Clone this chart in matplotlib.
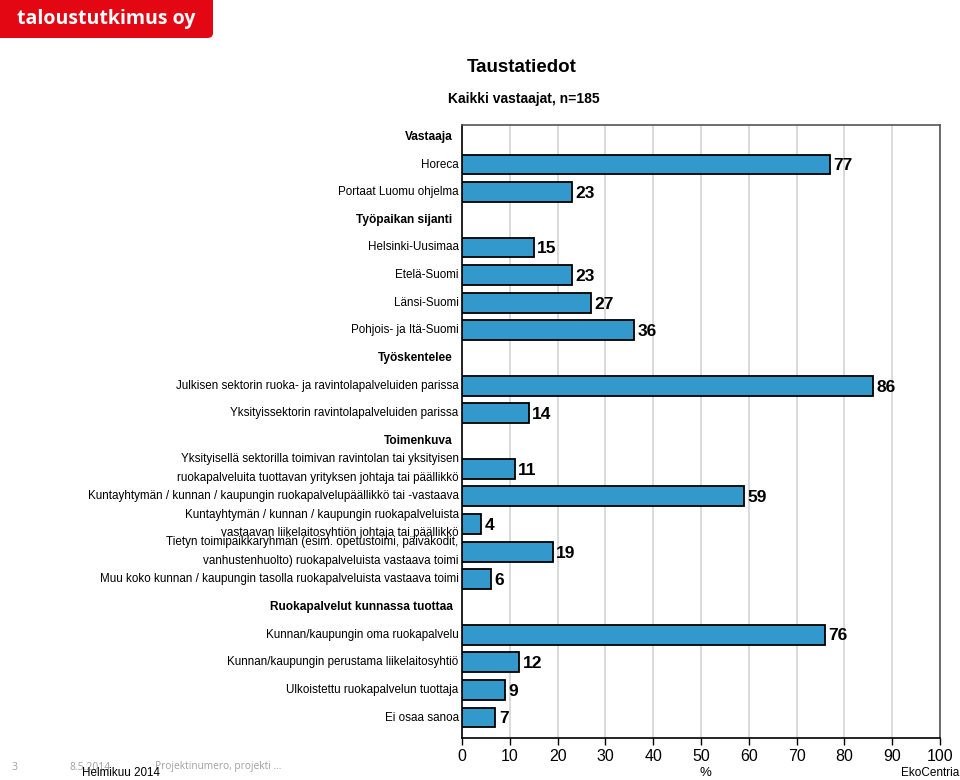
import numpy as np
import matplotlib.pyplot as plt
from matplotlib.patches import FancyBboxPatch
import matplotlib.transforms as mtransforms
from matplotlib import font_manager

plt.rcParams['font.family'] = ['Liberation Sans', 'DejaVu Sans']

# rivit ylhäältä alas; None = otsikkorivi (ei palkkia)
labels = ['Vastaaja',
          'Horeca',
          'Portaat Luomu ohjelma',
          'Työpaikan sijanti',
          'Helsinki-Uusimaa',
          'Etelä-Suomi',
          'Länsi-Suomi',
          'Pohjois- ja Itä-Suomi',
          'Työskentelee',
          'Julkisen sektorin ruoka- ja ravintolapalveluiden parissa',
          'Yksityissektorin ravintolapalveluiden parissa',
          'Toimenkuva',
          'Yksityisellä sektorilla toimivan ravintolan tai yksityisen\nruokapalveluita tuottavan yrityksen johtaja tai päällikkö',
          'Kuntayhtymän / kunnan / kaupungin ruokapalvelupäällikkö tai -vastaava',
          'Kuntayhtymän / kunnan / kaupungin ruokapalveluista\nvastaavan liikelaitosyhtiön johtaja tai päällikkö',
          'Tietyn toimipaikkaryhmän (esim. opetustoimi, päiväkodit,\nvanhustenhuolto) ruokapalveluista vastaava toimi',
          'Muu koko kunnan / kaupungin tasolla ruokapalveluista vastaava toimi',
          'Ruokapalvelut kunnassa tuottaa',
          'Kunnan/kaupungin oma ruokapalvelu',
          'Kunnan/kaupungin perustama liikelaitosyhtiö',
          'Ulkoistettu ruokapalvelun tuottaja',
          'Ei osaa sanoa']
values = [None, 77, 23, None, 15, 23, 27, 36, None, 86, 14, None,
          11, 59, 4, 19, 6, None, 76, 12, 9, 7]
xticks = [0, 10, 20, 30, 40, 50, 60, 70, 80, 90, 100]

names = {f.name for f in font_manager.fontManager.ttflist}
narrow = 'Liberation Sans Narrow' if 'Liberation Sans Narrow' in names else 'Liberation Sans'
print('narrow font:', narrow)

fig = plt.figure(figsize=(9.6, 7.8), dpi=100)
ax = fig.add_axes([462/960, 1-738/780, 478/960, 613/780])

for i, v in enumerate(values):
    if v is None:
        continue
    ax.barh(i, v, height=0.72, color='#3399cc', edgecolor='black', linewidth=1.3, zorder=3)
    ax.text(v + 0.7, i + 0.05, str(v), fontsize=12.5, fontweight='bold',
            family=[narrow], va='center', ha='left')

ax.set_xlim(0, 100)
ax.set_ylim(21.74, -0.43)
ax.set_xticks(xticks)
ax.set_xticklabels([str(t) for t in xticks], fontsize=11.5)
ax.set_yticks([])
ax.tick_params(axis='x', direction='out', length=5, width=1, pad=3)
ax.grid(axis='x', color='#d4d4d4', linewidth=1.2, zorder=0)
for s in ax.spines.values():
    s.set_linewidth(1.2)
ax.spines['top'].set_color('#555555')
ax.spines['right'].set_color('#555555')

trans = mtransforms.blended_transform_factory(ax.transAxes, ax.transData)
for i, lab in enumerate(labels):
    if values[i] is None:
        ax.text(-0.02, i, lab, transform=trans, ha='right', va='center',
                fontsize=8.6, fontweight='bold')
    else:
        ax.text(-0.007, i, lab, transform=trans, ha='right', va='center',
                fontsize=8.4, linespacing=1.75, multialignment='right')

fig.text(522/960, 1-68/780, 'Taustatiedot', ha='center', va='center', fontsize=13.5, fontweight='bold')
fig.text(524/960, 1-99/780, 'Kaikki vastaajat, n=185', ha='center', va='center', fontsize=10, fontweight='bold')

# logo
logo = FancyBboxPatch((-10/960, 1-38/780), 223/960, 48/780, boxstyle='round,pad=0,rounding_size=0.006',
                      transform=fig.transFigure, facecolor='#e30613', edgecolor='none')
fig.patches.append(logo)
fig.text(106/960, 1-19/780, 'taloustutkimus oy', ha='center', va='center', fontsize=14,
         fontweight='bold', color='white', family=['Open Sans', 'DejaVu Sans'])

# alatunniste
fig.text(705/960, 1-773/780, '%', ha='center', va='center', fontsize=9.5)
fig.text(959/960, 1-773/780, 'EkoCentria', ha='right', va='center', fontsize=8.5)
fig.text(12/960, 1-767/780, '3', ha='left', va='center', fontsize=7.5, color='#a0a0a0', family=['Open Sans'])
fig.text(70/960, 1-767/780, '8.5.2014', ha='left', va='center', fontsize=7.5, color='#a0a0a0', family=['Open Sans'])
fig.text(155/960, 1-766/780, 'Projektinumero, projekti ...', ha='left', va='center', fontsize=7.3,
         color='#a0a0a0', family=['Open Sans'])
fig.text(82/960, 1-773/780, 'Helmikuu 2014', ha='left', va='center', fontsize=8.4)

fig.savefig('out.png', dpi=100)
